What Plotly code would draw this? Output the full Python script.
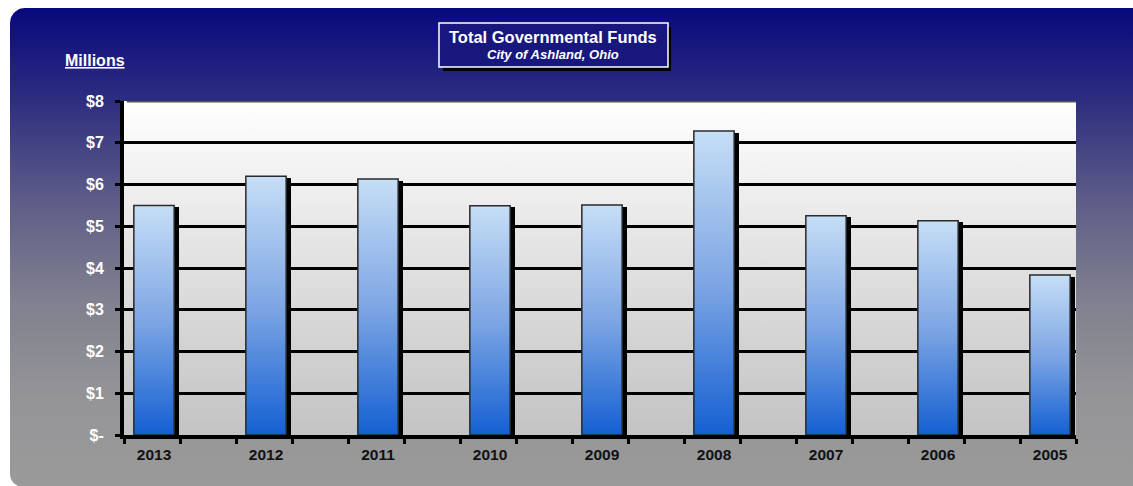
import plotly.graph_objects as go
import numpy as np

# ---- data ----
years = ['2013', '2012', '2011', '2010', '2009', '2008', '2007', '2006', '2005']
values = [5.50, 6.20, 6.13, 5.49, 5.51, 7.28, 5.25, 5.13, 3.83]
y_tick_vals = [0, 1, 2, 3, 4, 5, 6, 7, 8]
y_tick_labels = ['$-', '$1', '$2', '$3', '$4', '$5', '$6', '$7', '$8']
title_main = 'Total Governmental Funds'
title_sub = 'City of Ashland, Ohio'
units_label = 'Millions'

# ---- layout constants (pixels) ----
W, H = 1133, 486
PL, PR, PT, PB = 124, 1076, 101, 435
FONT = 'Liberation Sans, Arial, sans-serif'
BAR_W = 0.36

fig = go.Figure()

# --- background subplot (x, y in pixel units; y up) ---
def rounded_rect(x0, x1, y0, y1, r_tl, r_bl):
    pts_x, pts_y = [], []
    pts_x += [x1, x1]
    pts_y += [y0, y1]
    t = np.linspace(np.pi / 2, np.pi, 12)
    pts_x += list(x0 + r_tl + r_tl * np.cos(t))
    pts_y += list(y1 - r_tl + r_tl * np.sin(t))
    t = np.linspace(np.pi, 1.5 * np.pi, 12)
    pts_x += list(x0 + r_bl + r_bl * np.cos(t))
    pts_y += list(y0 + r_bl + r_bl * np.sin(t))
    pts_x.append(x1)
    pts_y.append(y0)
    return pts_x, pts_y

bx, by = rounded_rect(10, 1145, -1, H - 8, 15, 13)
fig.add_trace(go.Scatter(
    x=bx, y=by, fill='toself', mode='lines', line=dict(width=0),
    fillgradient=dict(type='vertical', colorscale=[
        [0.0, '#9a9a9a'], [0.18, '#959598'], [0.39, '#80808f'],
        [0.6, '#5d5c88'], [0.81, '#2d2d80'], [1.0, '#08087e']]),
    hoverinfo='skip', showlegend=False, xaxis='x', yaxis='y'))

# plot-area gradient background
fig.add_trace(go.Scatter(
    x=[PL, PR, PR, PL, PL], y=[H - PB, H - PB, H - PT, H - PT, H - PB],
    fill='toself', mode='lines', line=dict(width=0),
    fillgradient=dict(type='vertical', colorscale=[
        [0.0, '#c3c3c3'], [0.5, '#e0e0e0'], [1.0, '#ffffff']]),
    hoverinfo='skip', showlegend=False, xaxis='x', yaxis='y'))

# --- main chart (x2, y2) ---
idx = list(range(len(years)))
# shadows
fig.add_trace(go.Bar(
    x=idx, y=[v - 0.04 for v in values], width=BAR_W, offset=-BAR_W / 2 + 0.045,
    marker=dict(color='#000000', line=dict(width=0)),
    hoverinfo='skip', showlegend=False, xaxis='x2', yaxis='y2'))

bar_scale = [[0.0, '#1460d2'], [0.5, '#7ea6e4'], [1.0, '#c6def6']]
for i, v in zip(idx, values):
    fig.add_trace(go.Scatter(
        x=[i - BAR_W / 2, i + BAR_W / 2, i + BAR_W / 2, i - BAR_W / 2, i - BAR_W / 2],
        y=[0, 0, v, v, 0], fill='toself', mode='lines',
        line=dict(color='#2a2a2a', width=1.5),
        fillgradient=dict(type='vertical', colorscale=bar_scale),
        name=years[i], showlegend=False, xaxis='x2', yaxis='y2'))

px_per_unit = (PR - PL) / 8.5
x_left = -(154 - PL) / px_per_unit
x_right = x_left + 8.5

fig.update_layout(
    width=W, height=H,
    margin=dict(l=0, r=0, t=0, b=0, pad=0, autoexpand=False),
    paper_bgcolor='white', plot_bgcolor='rgba(0,0,0,0)',
    font=dict(family=FONT),
    xaxis=dict(domain=[0, 1], range=[0, W], visible=False, fixedrange=True,
               automargin=False),
    yaxis=dict(domain=[0, 1], range=[0, H], visible=False, fixedrange=True,
               automargin=False),
    xaxis2=dict(
        domain=[PL / W, PR / W], range=[x_left, x_right], anchor='y2',
        automargin=False,
        tickmode='array', tickvals=idx, ticktext=years, ticks='',
        tickfont=dict(family=FONT, size=15.5, color='#111111', weight='bold'),
        ticklabelstandoff=2,
        showgrid=False, zeroline=False,
        showline=True, linecolor='#000000', linewidth=4,
        minor=dict(ticks='outside', tick0=x_left, dtick=0.5, ticklen=5,
                   tickwidth=3, tickcolor='#000000', showgrid=False),
    ),
    yaxis2=dict(
        domain=[(H - PB) / H, (H - PT) / H], range=[0, 8], anchor='x2',
        automargin=False,
        tickmode='array', tickvals=y_tick_vals, ticktext=y_tick_labels,
        ticks='outside', ticklen=5, tickwidth=3, tickcolor='#000000',
        tickfont=dict(family=FONT, size=16, color='#ffffff', weight='bold'),
        ticklabelstandoff=8,
        showgrid=True, gridcolor='#000000', gridwidth=3, zeroline=False,
        showline=True, linecolor='#000000', linewidth=4,
    ),
    bargap=0, barmode='overlay',
    showlegend=False,
)

def py(p):
    return 1 - p / H

def pxx(p):
    return p / W

# top edge of plot wall (grey) and light right wall edge
fig.add_shape(type='line', xref='x2 domain', yref='y2',
              x0=0.003, x1=1, y0=8, y1=8,
              line=dict(color='#555555', width=3), layer='above')
fig.add_shape(type='line', xref='x2 domain', yref='y2',
              x0=0.998, x1=0.998, y0=0.05, y1=7.97,
              line=dict(color='#eeeeee', width=1.5), layer='below')

# title box: shadow, box, border
fig.add_shape(type='rect', xref='paper', yref='paper',
              x0=pxx(443), x1=pxx(671), y0=py(71), y1=py(27),
              fillcolor='#000000', line=dict(width=0), layer='above')
fig.add_shape(type='rect', xref='paper', yref='paper',
              x0=pxx(439), x1=pxx(668), y0=py(67), y1=py(23),
              fillcolor='#17177e', line=dict(color='#ffffff', width=1.5), layer='above')

fig.add_annotation(text='<b>' + title_main + '</b>', xref='paper', yref='paper',
                   x=pxx(553), y=py(37), xanchor='center', yanchor='middle',
                   showarrow=False, font=dict(family=FONT, size=16.5, color='#ffffff'))
fig.add_annotation(text='<b><i>' + title_sub + '</i></b>', xref='paper', yref='paper',
                   x=pxx(553), y=py(55), xanchor='center', yanchor='middle',
                   showarrow=False, font=dict(family=FONT, size=13, color='#ffffff'))
fig.add_annotation(text='<b>' + units_label + '</b>', xref='paper', yref='paper',
                   x=pxx(95), y=py(60), xanchor='center', yanchor='middle',
                   showarrow=False,
                   font=dict(family=FONT, size=16, color='#ffffff', lineposition='under'))

fig.write_html('out.html')
